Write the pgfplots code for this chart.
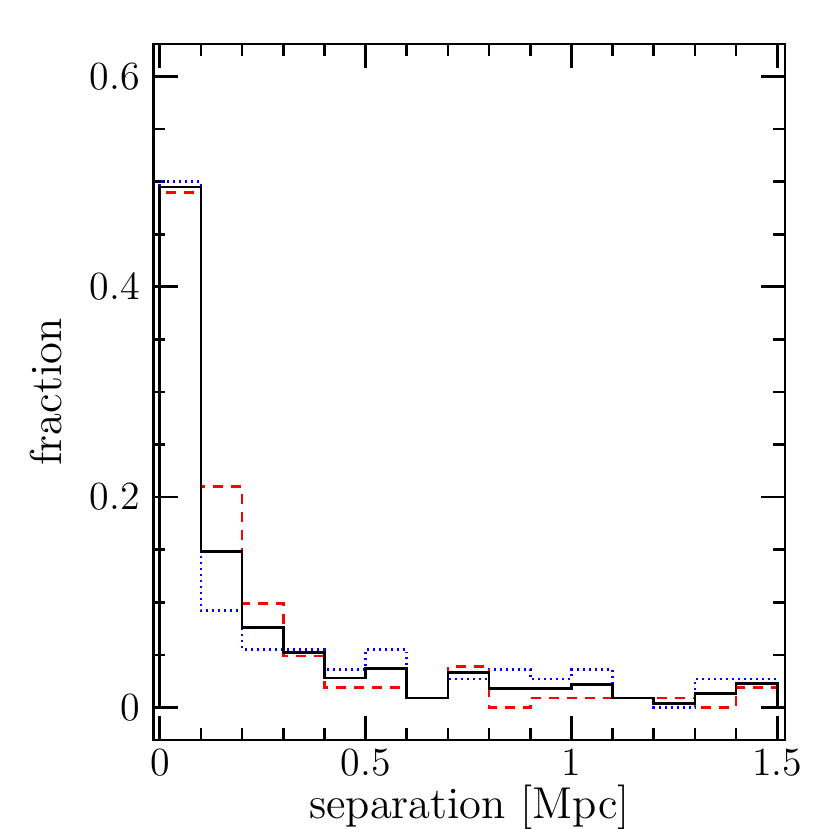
\documentclass[border=0pt]{standalone}
\usepackage{pgfplots}
\pgfplotsset{compat=1.18}
\begin{document}
\begin{tikzpicture}
\path[use as bounding box] (-46.2pt,-26.7pt) rectangle (203.1pt,222.3pt);
\begin{axis}[
  at={(0pt,0pt)}, anchor=south west,
  scale only axis, width=189.6pt, height=209.1pt,
  xmin=-0.0146, xmax=1.519, ymin=-0.0311, ymax=0.631,
  xtick={0,0.5,1,1.5}, xticklabels={0,0.5,1,1.5},
  ytick={0,0.2,0.4,0.6}, yticklabels={0,0.2,0.4,0.6},
  minor x tick num=4, minor y tick num=3,
  tick align=inside,
  major tick length=7.2pt, minor tick length=3.5pt,
  every tick/.style={black, line width=0.8pt},
  axis line style={line width=0.8pt},
  ticklabel style={font=\fontsize{12}{14}\selectfont, inner sep=0.5pt},
  xticklabel style={yshift=-2pt},
  yticklabel style={xshift=-3.5pt},
  xlabel={separation [Mpc]},
  ylabel={fraction},
  label style={font=\fontsize{13.4}{15}\selectfont, inner sep=0pt},
  xlabel style={at={(axis description cs:0.5,-0.096)}, anchor=center},
  ylabel style={at={(axis description cs:-0.171,0.5)}, anchor=center},
  clip=false,
]
\addplot[const plot, blue, line width=0.8pt, dash pattern=on 0.6pt off 1.2pt] coordinates {
(0,0) (0,0.500) (0.1,0.092) (0.2,0.055) (0.3,0.055) (0.4,0.036) (0.5,0.055)
(0.6,0.009) (0.7,0.027) (0.8,0.036) (0.9,0.027) (1.0,0.036) (1.1,0.009)
(1.2,0.0) (1.3,0.027) (1.4,0.027) (1.5,0.027) (1.5,0)};
\addplot[const plot, red, line width=0.8pt, dash pattern=on 3pt off 2.4pt] coordinates {
(0,0) (0,0.490) (0.1,0.210) (0.2,0.099) (0.3,0.049) (0.4,0.019) (0.5,0.019)
(0.6,0.009) (0.7,0.039) (0.8,0.0) (0.9,0.009) (1.0,0.009) (1.1,0.009)
(1.2,0.009) (1.3,0.0) (1.4,0.019) (1.5,0.019) (1.5,0)};
\addplot[const plot, black, line width=0.8pt] coordinates {
(0,0) (0,0.495) (0.1,0.148) (0.2,0.076) (0.3,0.052) (0.4,0.028) (0.5,0.037)
(0.6,0.009) (0.7,0.033) (0.8,0.018) (0.9,0.018) (1.0,0.022) (1.1,0.009)
(1.2,0.0035) (1.3,0.013) (1.4,0.023) (1.5,0.023) (1.5,0)};
\end{axis}
\end{tikzpicture}
\end{document}
